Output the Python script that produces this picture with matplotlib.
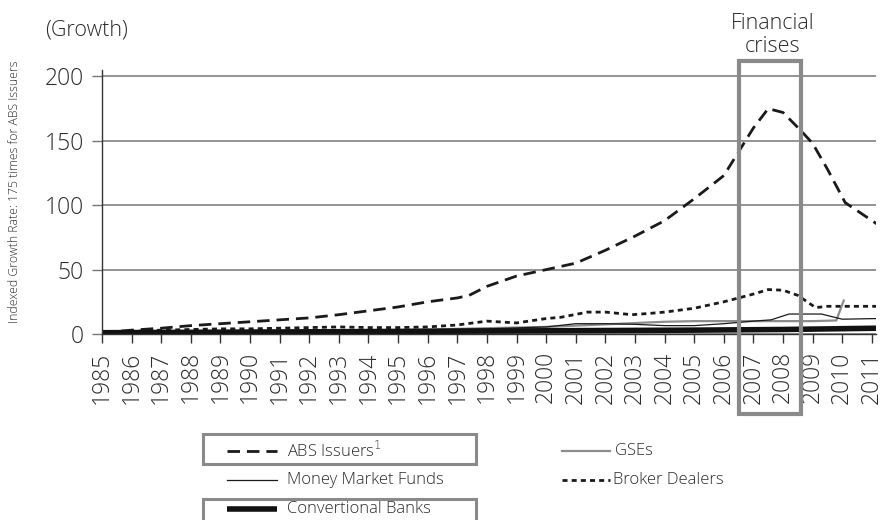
import matplotlib
matplotlib.use("Agg")
import matplotlib.pyplot as plt
from matplotlib.lines import Line2D
from matplotlib.patches import Rectangle
import matplotlib.transforms as mtransforms

plt.rcParams['font.family'] = ['Open Sans', 'DejaVu Sans']
plt.rcParams['font.weight'] = 'light'

# values (index, 1985 = 1)
abs_x = [1985, 1986, 1987, 1988, 1989, 1990, 1991, 1992, 1993, 1994, 1995, 1996,
         1997, 1997.4, 1998, 1999, 2000, 2001, 2002, 2003, 2004, 2005, 2006,
         2007, 2007.5, 2008, 2008.6, 2009, 2009.5, 2010.1, 2011.2]
abs_y = [1, 3, 4.5, 6.5, 8, 9.5, 11, 12.5, 15, 18, 21, 25,
         28, 30, 37, 45, 50, 55, 65, 76, 88, 105, 123,
         160, 175, 172, 158, 148, 128, 102, 85]

bd_x = [1985, 1986, 1987, 1988, 1989, 1990, 1991, 1992, 1993, 1994, 1995, 1996,
        1997, 1998, 1999, 2000, 2000.5, 2001.4, 2002, 2002.9, 2003.5, 2004, 2005,
        2006, 2007, 2007.5, 2008, 2008.5, 2009.1, 2009.5, 2011.2]
bd_y = [1, 2, 3, 3.5, 4, 4, 4.5, 5, 5.5, 5, 5, 5.5,
        7, 10, 8.6, 12, 13, 17, 17, 15, 16, 17, 20,
        25, 31, 34.5, 34, 30, 20.5, 21.5, 21.5]

gse_x = [1985, 1990, 1995, 1998, 2000, 2001, 2002, 2003, 2004, 2005, 2006,
         2007, 2008, 2009, 2009.8, 2010.05]
gse_y = [0.5, 1.5, 3, 4.5, 5.5, 6.5, 7.5, 8.5, 9.5, 10, 10,
         10, 10, 10, 10.5, 26]

mmf_x = [1985, 1990, 1995, 1998, 2000, 2001, 2002, 2003, 2004, 2005, 2006,
         2007, 2007.6, 2008.2, 2009.3, 2010, 2011.2]
mmf_y = [0.5, 2, 3, 4, 5.5, 8, 8, 7.5, 6.5, 6.5, 8,
         10, 11, 15.5, 15.5, 11.5, 12]

cb_x = [1985, 1990, 1995, 2000, 2005, 2008, 2011.2]
cb_y = [1, 1.5, 2, 2.5, 3, 3.5, 4.5]

years = list(range(1985, 2012))
yticks = [0, 50, 100, 150, 200]

text_col = "#2b2b2b"
box_col = "#8a8a8a"

styles = {
    "ABS Issuers$^{1}$": dict(color="#1a1a1a", lw=2.0, ls=(0, (4.5, 2.5))),
    "Money Market Funds": dict(color="#1a1a1a", lw=0.9, ls="-"),
    "Convertional Banks": dict(color="#111111", lw=4.0, ls="-", solid_capstyle="butt"),
    "GSEs": dict(color="#8c8c8c", lw=1.6, ls="-"),
    "Broker Dealers": dict(color="#1a1a1a", lw=2.0, ls=(0, (1.8, 1.5))),
}

fig = plt.figure(figsize=(8.83, 5.2), dpi=100)
W, H = 883.0, 520.0
ax = fig.add_axes([102 / W, 1 - 334 / H, (876 - 102) / W, (334 - 70) / H])

ax.plot(gse_x, gse_y, **styles["GSEs"])
ax.plot(mmf_x, mmf_y, **styles["Money Market Funds"])
ax.plot(bd_x, bd_y, **styles["Broker Dealers"])
ax.plot(abs_x, abs_y, **styles["ABS Issuers$^{1}$"])
ax.plot(cb_x, cb_y, **styles["Convertional Banks"])

ax.set_xlim(1985, 2011.14)
ax.set_ylim(0, 205)
for s in ["top", "right"]:
    ax.spines[s].set_visible(False)
ax.spines["left"].set_color("#333333")
ax.spines["bottom"].set_color("#333333")
ax.spines["left"].set_linewidth(1.0)
ax.spines["bottom"].set_linewidth(1.0)

ax.set_yticks(yticks)
ax.set_yticklabels([str(v) for v in yticks], fontsize=16.5, color=text_col)
ax.set_xticks(years)
ax.set_xticklabels([str(y) for y in years], rotation=90, fontsize=16.5, color=text_col)
ax.tick_params(axis="y", length=7, width=1.0, color="#777777", pad=6)
ax.tick_params(axis="x", length=6.5, width=1.0, color="#333333", pad=6)
ax.yaxis.grid(True, color="#777777", lw=1.1)
ax.set_axisbelow(True)

fig.text(45 / W, 1 - 30 / H, "(Growth)", fontsize=15.5, color=text_col, va="center")
fig.text(15 / W, 1 - 192 / H, "Indexed Growth Rate: 175 times for ABS Issuers",
         rotation=90, fontsize=8.8, color=text_col, ha="center", va="center")
fig.text(773 / W, 1 - 35 / H, "Financial\ncrises", fontsize=15.5, color=text_col,
         ha="center", va="center", linespacing=1.1)

# crisis box: x in data, y in axes units
trans = mtransforms.blended_transform_factory(ax.transData, ax.transAxes)
y_top = (334 - 61) / 264.0
y_bot = (334 - 414) / 264.0
ax.add_patch(Rectangle((2006.5, y_bot), 2.12, y_top - y_bot, transform=trans,
                       fill=False, ec=box_col, lw=3.0, clip_on=False, zorder=5))

# legend, drawn by hand below the chart
def fx(px):
    return px / W


def fy(py):
    return 1 - py / H


legend_rows = [
    ("ABS Issuers$^{1}$", 227, 277, 287, 451),
    ("Money Market Funds", 227, 277, 287, 480),
    ("Convertional Banks", 227, 277, 287, 509),
    ("GSEs", 562, 610, 615, 451),
    ("Broker Dealers", 562, 610, 613, 480),
]
for name, x0, x1, xt, yy in legend_rows:
    fig.add_artist(Line2D([fx(x0), fx(x1)], [fy(yy), fy(yy)], transform=fig.transFigure,
                          **styles[name]))
    fig.text(fx(xt), fy(yy), name, fontsize=12, color=text_col, va="center")

for (x0, y0, x1, y1) in [(203, 434, 476, 464), (203, 499, 476, 535)]:
    fig.add_artist(Rectangle((fx(x0), fy(y1)), fx(x1) - fx(x0), fy(y0) - fy(y1),
                             transform=fig.transFigure, fill=False, ec=box_col, lw=2.2))

fig.savefig("out.png", dpi=100)
